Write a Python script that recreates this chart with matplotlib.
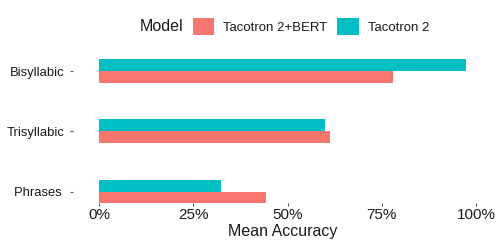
import matplotlib.pyplot as plt
import numpy as np

plt.rcParams["font.family"] = ["Liberation Sans", "DejaVu Sans"]

categories = ["Phrases ", "Trisyllabic", "Bisyllabic"]
models = ["Tacotron 2+BERT", "Tacotron 2"]
bert_acc = [0.442, 0.613, 0.780]
taco_acc = [0.324, 0.599, 0.973]
tick_vals = [0, 0.25, 0.5, 0.75, 1.0]
tick_labels = ["0%", "25%", "50%", "75%", "100%"]

colors = {"Tacotron 2+BERT": "#F8766D", "Tacotron 2": "#00BFC4"}
text_col = "#1a1a1a"

fig = plt.figure(figsize=(5, 2.5), dpi=100)
ax = fig.add_axes([0.146, 0.19, 0.838, 0.67])

y = np.arange(len(categories))
h = 0.2
b1 = ax.barh(y - h / 2, bert_acc, height=h, color=colors[models[0]], label=models[0])
b2 = ax.barh(y + h / 2, taco_acc, height=h, color=colors[models[1]], label=models[1])

ax.set_xlim(-0.069, 1.042)
ax.set_ylim(-0.18, 2.6)

for s in ax.spines.values():
    s.set_visible(False)

ax.set_xticks(tick_vals)
ax.set_xticklabels(tick_labels, fontsize=11, color=text_col)
ax.set_yticks(y)
ax.set_yticklabels(categories, fontsize=9.4, color=text_col)
ax.tick_params(axis="x", length=2.2, width=0.8, color="#555555", pad=1.5)
ax.tick_params(axis="y", length=2.2, width=0.8, color="#555555", pad=3.6)

ax.set_xlabel("Mean Accuracy", fontsize=11.5, color=text_col, labelpad=2)

fig.text(140 / 500, 0.894, "Model", fontsize=11.5, color=text_col, va="center", ha="left")
fig.legend(
    handles=[b1, b2],
    loc="center left",
    bbox_to_anchor=(193 / 500, 0.894),
    ncol=2,
    frameon=False,
    fontsize=9.5,
    handlelength=1.6,
    handleheight=1.6,
    handletextpad=0.7,
    columnspacing=0.75,
    borderpad=0,
    borderaxespad=0,
    labelcolor=text_col,
)

fig.savefig("out.png", dpi=100)
